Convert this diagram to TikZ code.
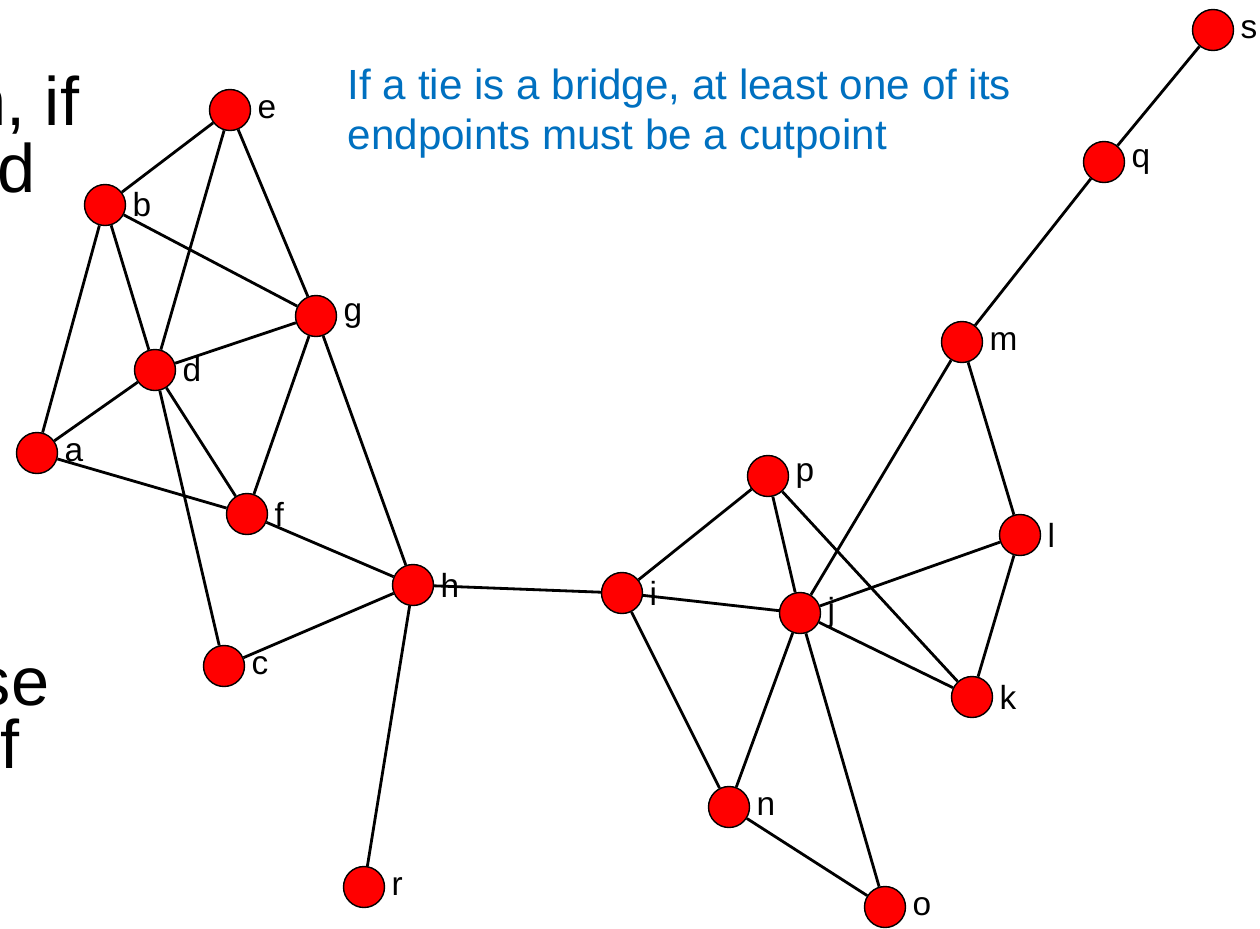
\documentclass[tikz,border=0pt]{standalone}
\usepackage{fontspec}
\setmainfont{Liberation Sans}
\definecolor{noteblue}{RGB}{0,112,192}
\tikzset{
  actor/.style={circle,draw=black,fill=red,minimum size=4.1mm,inner sep=0pt,line width=0.4pt,
    label={[lbl]right:#1}},
  lbl/.style={font=\fontsize{9.5}{11}\selectfont,inner sep=0.5pt,label distance=0.4mm},
  tie/.style={line width=0.8pt},
  big/.style={font=\fontsize{19.5}{23}\selectfont,inner sep=0pt}
}

\begin{document}
\begin{tikzpicture}[x=0.1mm,y=-0.1mm]
\useasboundingbox (0,0) rectangle (1260,928);
% cut-off text of the slide behind
\node[big,anchor=base east] (t1) at (80,125) {n, if};
\node[big,anchor=base east] (t2) at (36,192) {d};
\node[big,anchor=base east] (t3) at (50,705) {se};
\node[big,anchor=base east] (t4) at (20,768) {f};
\node[anchor=north west,align=left,text=noteblue,inner sep=0pt,
  font=\fontsize{12}{14.2}\selectfont] (note) at (347,68)
  {If a tie is a bridge, at least one of its\\endpoints must be a cutpoint};
% actors
\node[actor=e] (e) at (230,110) {};
\node[actor=b] (b) at (105,205) {};
\node[actor=g] (g) at (316,316) {};
\node[actor=d] (d) at (155,370) {};
\node[actor=a] (a) at (37,453) {};
\node[actor=f] (f) at (247,514) {};
\node[actor=h] (h) at (413,585) {};
\node[actor=c] (c) at (224,666) {};
\node[actor=r] (r) at (364,887) {};
\node[actor=i] (i) at (622,593) {};
\node[actor=p] (p) at (768,476) {};
\node[actor=j] (j) at (800,613) {};
\node[actor=k] (k) at (972,697) {};
\node[actor=l] (l) at (1020,535) {};
\node[actor=m] (m) at (962,342) {};
\node[actor=q] (q) at (1104,162) {};
\node[actor=s] (s) at (1213,30) {};
\node[actor=n] (n) at (729,807) {};
\node[actor=o] (o) at (885,907) {};
% ties
\draw[tie] (e) -- (b);
\draw[tie] (e) -- (d);
\draw[tie] (e) -- (g);
\draw[tie] (b) -- (g);
\draw[tie] (b) -- (d);
\draw[tie] (b) -- (a);
\draw[tie] (g) -- (d);
\draw[tie] (g) -- (f);
\draw[tie] (g) -- (h);
\draw[tie] (d) -- (a);
\draw[tie] (d) -- (f);
\draw[tie] (d) -- (c);
\draw[tie] (a) -- (f);
\draw[tie] (f) -- (h);
\draw[tie] (h) -- (c);
\draw[tie] (h) -- (r);
\draw[tie] (h) -- (i);
\draw[tie] (i) -- (p);
\draw[tie] (i) -- (j);
\draw[tie] (i) -- (n);
\draw[tie] (p) -- (j);
\draw[tie] (p) -- (k);
\draw[tie] (j) -- (m);
\draw[tie] (j) -- (l);
\draw[tie] (j) -- (k);
\draw[tie] (j) -- (n);
\draw[tie] (j) -- (o);
\draw[tie] (m) -- (l);
\draw[tie] (m) -- (q);
\draw[tie] (l) -- (k);
\draw[tie] (q) -- (s);
\draw[tie] (n) -- (o);
\end{tikzpicture}
\end{document}
